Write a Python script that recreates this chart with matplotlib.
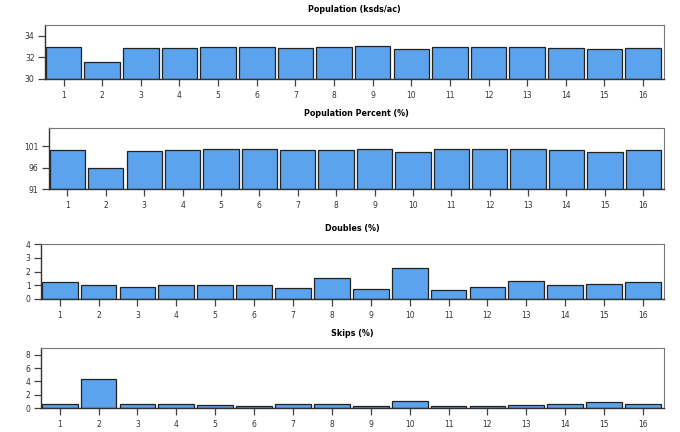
import matplotlib.pyplot as plt

# Data
blocks = list(range(1, 17))
population = [32.93, 31.6, 32.83, 32.9, 32.95, 32.95, 32.9, 32.95,
              33.05, 32.78, 32.95, 32.95, 32.95, 32.9, 32.78, 32.9]
population_pct = [100.07, 96.0, 99.77, 100.07, 100.2, 100.2, 100.07, 100.07,
                  100.2, 99.6, 100.2, 100.2, 100.2, 100.07, 99.6, 100.07]
doubles = [1.24, 1.04, 0.84, 1.0, 1.0, 1.0, 0.77, 1.5,
           0.72, 2.27, 0.62, 0.87, 1.29, 0.99, 1.09, 1.21]
skips = [0.55, 4.33, 0.6, 0.55, 0.45, 0.3, 0.55, 0.6,
         0.3, 1.04, 0.3, 0.3, 0.45, 0.55, 0.85, 0.55]

titles = ['Population (ksds/ac)', 'Population Percent (%)', 'Doubles (%)', 'Skips (%)']
series = [population, population_pct, doubles, skips]
ylims = [(30, 35), (91, 105.2), (0, 4), (0, 9)]
yticks = [[30, 32, 34], [91, 96, 101], [0, 1, 2, 3, 4], [0, 2, 4, 6, 8]]

# axes boxes in pixels: left, top, right, bottom
W, H = 680, 432
boxes = [(45, 25, 664, 79), (49, 128, 664, 189), (41, 244, 664, 299), (41, 348, 664, 408)]

fig = plt.figure(figsize=(6.8, 4.32), dpi=100)
fig.patch.set_facecolor('white')

for vals, title, ylim, yt, (l, t, r, b) in zip(series, titles, ylims, yticks, boxes):
    ax = fig.add_axes([l / W, 1 - b / H, (r - l) / W, (b - t) / H])
    ax.bar(blocks, [v - ylim[0] for v in vals], bottom=ylim[0], width=0.92,
           color='#5ba3ec', edgecolor='#222222', linewidth=0.9, zorder=2)
    ax.set_xlim(0.52, 16.54)
    ax.set_ylim(*ylim)
    ax.set_xticks(blocks)
    ax.set_yticks(yt)
    ax.tick_params(axis='both', labelsize=5.5, length=5, width=0.9,
                   color='#444444', labelcolor='#333333', pad=2.5)
    ax.tick_params(axis='x', pad=3.5)
    for side in ['left', 'bottom']:
        ax.spines[side].set_color('#333333')
        ax.spines[side].set_linewidth(1.0)
    for side in ['top', 'right']:
        ax.spines[side].set_color('#777777')
        ax.spines[side].set_linewidth(0.8)
    ax.set_title(title, fontsize=5.8, fontweight='bold', pad=9)

fig.savefig('out.png', dpi=100)
